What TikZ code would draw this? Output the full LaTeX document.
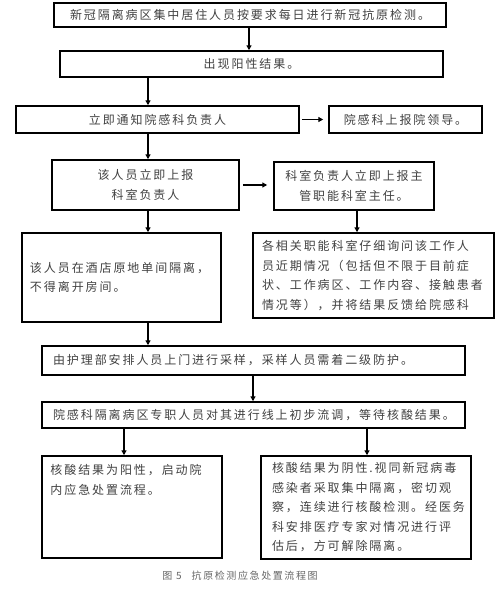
\documentclass[tikz,border=0pt]{standalone}
\usepackage{fontspec}
\newfontfamily\cjk[LetterSpace=16]{Noto Sans CJK SC}
\usetikzlibrary{arrows.meta,positioning}

\tikzset{
  txt/.style={inner sep=0pt, font=\cjk\fontsize{12}{19.5}\selectfont, text=black!75},
  box/.style={txt, draw, line width=1.5pt},
  lbox/.style={box, align=left},
  arr/.style={line width=1.3pt, -{Triangle[length=5pt,width=5pt]}},
}

\begin{document}
\begin{tikzpicture}[x=1pt,y=-1pt]
  \useasboundingbox (0,0) rectangle (500,592);
  % columns of the vertical arrows
  \coordinate (xa) at (249,0);
  \coordinate (xb) at (148,0);
  \coordinate (xc) at (357,0);
  \coordinate (xd) at (253,0);
  \coordinate (xe) at (124,0);
  \coordinate (xf) at (367,0);

  % top chain
  \node[box, minimum width=392pt, minimum height=24pt] (test) at (250,15)
    {新冠隔离病区集中居住人员按要求每日进行新冠抗原检测。};
  \node[box, minimum width=383pt, minimum height=26pt] (pos) at (251.5,64)
    {出现阳性结果。};
  \node[box, minimum width=283pt, minimum height=27pt] (notify) at (157.5,119.5)
    {立即通知院感科负责人};
  \node[box, minimum width=153pt, minimum height=27pt] (leader) at (405.5,119.5)
    {院感科上报院领导。};

  % report
  \node[box, align=center, minimum width=187pt, minimum height=50pt] (report) at (145.5,185)
    {该人员立即上报\\科室负责人};
  \node[box, align=center, minimum width=160pt, minimum height=48pt] (head) at (354,186)
    {科室负责人立即上报主\\管职能科室主任。};

  % isolation / inquiry
  \node[lbox, inner xsep=8pt, text width=183pt, minimum height=89pt] (room) at (121.5,277.5)
    {该人员在酒店原地单间隔离，\\不得离开房间。};
  \node[lbox, inner xsep=9pt, text width=223pt, minimum height=85pt] (inquiry) at (373.5,275.5)
    {各相关职能科室仔细询问该工作人\\员近期情况（包括但不限于目前症\\状、工作病区、工作内容、接触患者\\情况等），并将结果反馈给院感科};

  % sampling
  \node[lbox, inner xsep=11pt, text width=401pt, minimum height=29pt] (sample) at (253.5,360.5)
    {由护理部安排人员上门进行采样，采样人员需着二级防护。};
  \node[lbox, inner xsep=11pt, text width=401pt, minimum height=26pt] (trace) at (253.5,415)
    {院感科隔离病区专职人员对其进行线上初步流调，等待核酸结果。};

  % results
  \node[box, minimum width=180pt, minimum height=102pt] (plus) at (132,507) {};
  \node[txt, align=left, text width=165pt, anchor=north west] (plustxt)
    at ([xshift=9pt,yshift=-9pt]plus.north west)
    {核酸结果为阳性，启动院\\内应急处置流程。};
  \node[lbox, inner xsep=11pt, text width=188pt, minimum height=103pt] (minus) at (366,507.5)
    {核酸结果为阴性.视同新冠病毒\\感染者采取集中隔离，密切观\\察，连续进行核酸检测。经医务\\科安排医疗专家对情况进行评\\估后，方可解除隔离。};

  \node[txt, font=\cjk\fontsize{10}{10}\selectfont, text=black!60] (caption) at (240,576)
    {图 5\quad 抗原检测应急处置流程图};

  % connectors
  \draw[arr] (test.south -| xa) -- (pos.north -| xa);
  \draw[arr] (pos.south -| xb) -- (notify.north -| xb);
  \draw[arr, shorten <=2pt, shorten >=5pt] (notify.east) -- (leader.west);
  \draw[arr] (notify.south -| xb) -- (report.north -| xb);
  \draw[arr, shorten <=3pt, shorten >=6pt] (report.east) -- (head.west |- report.east);
  \draw[arr] (report.south -| xb) -- (room.north -| xb);
  \draw[arr] (head.south -| xc) -- (inquiry.north -| xc);
  \draw[arr] (room.south -| xb) -- (sample.north -| xb);
  \draw[arr] (sample.south -| xd) -- (trace.north -| xd);
  \draw[arr] (trace.south -| xe) -- (plus.north -| xe);
  \draw[arr] (trace.south -| xf) -- (minus.north -| xf);
\end{tikzpicture}
\end{document}
